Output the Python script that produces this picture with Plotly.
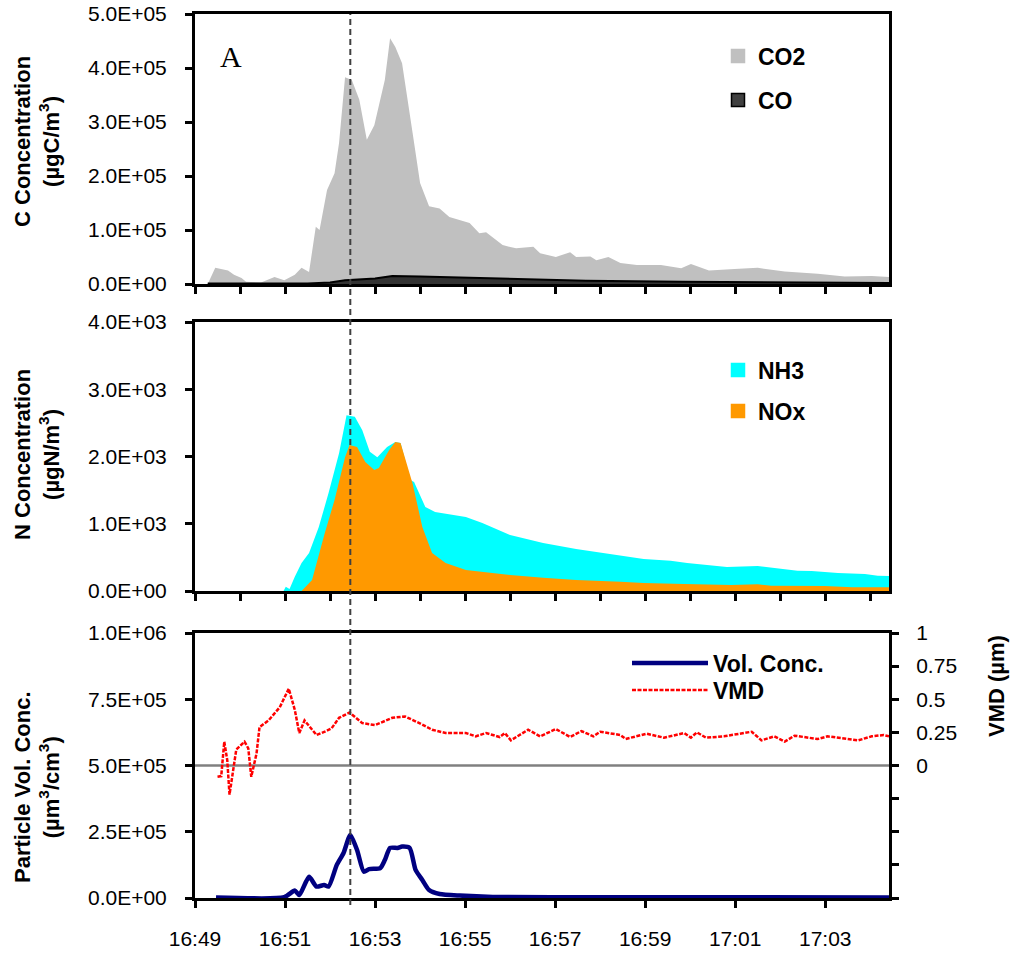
import plotly.graph_objects as go
import pandas as pd

W, H = 1017, 957
FONT = "Liberation Sans"

# ---------------- data (time = seconds after 16:49:00) ----------------
T0 = pd.Timestamp("2000-01-01 16:49:00")
T_END_S = 925
EVENT_S = 207          # dashed marker, ~16:52:27

co2_s = [17, 27, 44, 52, 62, 68, 88, 106, 119, 133, 142, 152, 161, 166, 176, 186, 192, 196, 200, 209,
         219, 229, 239, 253, 260, 267, 276, 290, 300, 312, 326, 339, 353, 366, 379, 388, 410, 428, 451, 460,
         481, 500, 508, 527, 535, 551, 567, 589, 621, 648, 661, 685, 719, 750, 786, 830, 866, 902, 925]
co2_k = [0, 30, 25, 17, 11, 4, 3, 13, 7, 17, 30, 22, 106, 100, 174, 205, 261, 322, 383, 378,
         341, 267, 294, 378, 455, 439, 409, 280, 187, 144, 140, 124, 119, 113, 94, 96, 72, 66, 69, 57,
         50, 59, 50, 51, 44, 50, 39, 35, 35, 29, 37, 25, 28, 30, 23, 19, 14, 15, 13]

co_s = [17, 150, 180, 200, 240, 263, 300, 374, 441, 521, 650, 800, 925]
co_k = [1, 1, 3, 7, 10, 15, 14, 11, 9, 6, 4, 3, 2]

nh3_s = [17, 118, 121, 126, 133, 142, 152, 165, 178, 192, 202, 213, 223, 233, 243, 256, 267, 274, 287, 292,
         307, 320, 361, 383, 420, 464, 508, 535, 571, 598, 634, 656, 709, 750, 803, 822, 857, 893, 910, 925]
nh3 = [0, 0, 64, 30, 213, 416, 565, 951, 1456, 2050, 2615, 2590, 2392, 2070, 1990, 2140, 2215, 2200, 1650, 1620,
       1250, 1175, 1100, 1010, 832, 713, 624, 584, 520, 475, 450, 416, 357, 371, 302, 297, 267, 253, 228, 223]

nox_s = [17, 142, 156, 173, 186, 200, 206, 216, 227, 239, 245, 259, 267, 274, 290, 303, 316, 334, 361, 420,
         464, 508, 567, 598, 652, 715, 750, 768, 839, 876, 925]
nox = [0, 0, 163, 862, 1352, 1990, 2170, 2140, 1920, 1800, 1830, 2100, 2215, 2200, 1600, 951, 565, 416, 312, 238,
       198, 163, 138, 119, 104, 89, 99, 79, 74, 55, 55]

vol_s = [28, 119, 133, 139, 152, 162, 172, 178, 189, 198, 207, 216, 225, 232, 247, 253, 260, 270, 276, 286,
         294, 303, 312, 326, 353, 397, 544, 925]
vol = [2000, 3000, 28000, 11000, 80000, 43000, 49000, 43000, 125000, 170000, 238000, 181000, 99000, 109000,
       113000, 143000, 189000, 189000, 194000, 189000, 106000, 68000, 30000, 15000, 9000, 4000, 3000, 2000]

vmd_s = [30, 35, 39, 43, 46, 51, 55, 66, 71, 75, 82, 86, 98, 113, 125, 133, 139, 146, 153, 162,
         173, 182, 192, 206, 223, 240, 263, 280, 299, 316, 334, 361, 374, 388, 406, 413, 421, 444, 460, 481,
         500, 515, 531, 540, 567, 574, 602, 625, 652, 661, 669, 681, 705, 742, 755, 772, 786, 799, 830, 843,
         884, 902, 918, 925]
vmd = [-0.085, -0.08, 0.18, 0.04, -0.22, -0.03, 0.12, 0.18, 0.13, -0.085, 0.09, 0.29, 0.34, 0.44, 0.58, 0.42,
       0.245, 0.34, 0.29, 0.23, 0.255, 0.28, 0.36, 0.40, 0.32, 0.305, 0.36, 0.37, 0.32, 0.27, 0.245, 0.245,
       0.22, 0.245, 0.215, 0.245, 0.19, 0.27, 0.22, 0.275, 0.215, 0.26, 0.22, 0.255, 0.23, 0.2, 0.24, 0.21,
       0.245, 0.21, 0.25, 0.21, 0.22, 0.255, 0.19, 0.22, 0.18, 0.225, 0.2, 0.22, 0.19, 0.22, 0.23, 0.22]

c_ticks = [0, 1e5, 2e5, 3e5, 4e5, 5e5]
n_ticks = [0, 1e3, 2e3, 3e3, 4e3]
p_ticks = [0, 2.5e5, 5e5, 7.5e5, 1e6]
vmd_ticks = [-1, -0.75, -0.5, -0.25, 0, 0.25, 0.5, 0.75, 1]
vmd_labels = ["", "", "", "", "0", "0.25", "0.5", "0.75", "1"]


def tx(secs):
    return [T0 + pd.Timedelta(seconds=s) for s in secs]


def px_x(p):
    return p / W


def px_y(p):
    return 1 - p / H


X_DOM = [px_x(195), px_x(889)]
Y_DOM1 = [px_y(284), px_y(14)]
Y_DOM2 = [px_y(591), px_y(322)]
Y_DOM3 = [px_y(898), px_y(633)]

fig = go.Figure()

# ---------- top panel ----------
fig.add_trace(go.Scatter(x=tx(co2_s), y=[v * 1000 for v in co2_k], mode="lines", fill="tozeroy",
                         fillcolor="#C0C0C0", line=dict(width=0, color="#C0C0C0"),
                         xaxis="x", yaxis="y", showlegend=False))
fig.add_trace(go.Scatter(x=tx(co_s), y=[v * 1000 for v in co_k], mode="lines", fill="tozeroy",
                         fillcolor="#333333", line=dict(width=2, color="#000000"),
                         xaxis="x", yaxis="y", showlegend=False))

# ---------- middle panel ----------
fig.add_trace(go.Scatter(x=tx(nh3_s), y=nh3, mode="lines", fill="tozeroy",
                         fillcolor="#00FFFF", line=dict(width=0, color="#00FFFF"),
                         xaxis="x2", yaxis="y2", showlegend=False))
fig.add_trace(go.Scatter(x=tx(nox_s), y=nox, mode="lines", fill="tozeroy",
                         fillcolor="#FF9900", line=dict(width=0, color="#FF9900"),
                         xaxis="x2", yaxis="y2", showlegend=False))

# ---------- bottom panel ----------
fig.add_trace(go.Scatter(x=tx(vol_s), y=vol, mode="lines", name="<b>Vol. Conc.</b>",
                         line=dict(width=4.5, color="#000080", shape="spline", smoothing=0.6),
                         xaxis="x3", yaxis="y3", legend="legend5"))
fig.add_trace(go.Scatter(x=tx(vmd_s), y=vmd, mode="lines", name="<b>VMD</b>",
                         line=dict(width=2.5, color="#FF0000", dash="4px,1.5px"),
                         xaxis="x3", yaxis="y4", legend="legend6"))

# ---------- legend swatches (no data) ----------
sw = [("<b>CO2</b>", "#C0C0C0", "#C0C0C0", "legend"),
      ("<b>CO</b>", "#404040", "#000000", "legend2"),
      ("<b>NH3</b>", "#00FFFF", "#00FFFF", "legend3"),
      ("<b>NOx</b>", "#FF9900", "#FF9900", "legend4")]
for name, fc, lc, lg in sw:
    fig.add_trace(go.Scatter(x=[None], y=[None], mode="markers", name=name,
                             marker=dict(symbol="square", size=13, color=fc, line=dict(width=1.5, color=lc)),
                             xaxis="x", yaxis="y", legend=lg))


def leg(xpx, ypx, itemwidth=30):
    return dict(x=px_x(xpx), y=px_y(ypx), xanchor="left", yanchor="middle",
                bgcolor="rgba(0,0,0,0)", borderwidth=0, itemwidth=itemwidth,
                font=dict(family=FONT, size=23, color="black"))


axis_common = dict(showgrid=False, zeroline=False, showline=True, linecolor="black", linewidth=3,
                   ticks="outside", ticklen=7, tickwidth=2.5, tickcolor="black", mirror=True,
                   automargin=False, ticklabeloverflow="allow",
                   tickfont=dict(family=FONT, size=21, color="black"))
x_range = [T0, T0 + pd.Timedelta(seconds=T_END_S)]

fig.update_layout(
    width=W, height=H, margin=dict(l=0, r=0, t=0, b=0, autoexpand=False),
    paper_bgcolor="white", plot_bgcolor="white",
    font=dict(family=FONT, size=21, color="black"),
    xaxis=dict(axis_common, domain=X_DOM, anchor="y", type="date", range=x_range,
               tick0=T0, dtick=60000, showticklabels=False),
    yaxis=dict(axis_common, domain=Y_DOM1, anchor="x", range=[0, 5e5],
               tickvals=c_ticks, ticktext=[f"{v:.1E}" for v in c_ticks], ticklabelstandoff=14),
    xaxis2=dict(axis_common, domain=X_DOM, anchor="y2", type="date", range=x_range,
                tick0=T0, dtick=60000, showticklabels=False),
    yaxis2=dict(axis_common, domain=Y_DOM2, anchor="x2", range=[0, 4000],
                tickvals=n_ticks, ticktext=[f"{v:.1E}" for v in n_ticks], ticklabelstandoff=14),
    xaxis3=dict(axis_common, domain=X_DOM, anchor="y3", type="date", range=x_range,
                tick0=T0, dtick=120000, tickformat="%H:%M", ticklabelstandoff=13),
    yaxis3=dict(axis_common, domain=Y_DOM3, anchor="x3", range=[0, 1e6],
                tickvals=p_ticks, ticktext=[f"{v:.1E}" for v in p_ticks], ticklabelstandoff=14),
    yaxis4=dict(axis_common, domain=Y_DOM3, anchor="x3", overlaying="y3", side="right",
                range=[-1, 1], tickvals=vmd_ticks, ticktext=vmd_labels, mirror=False,
                ticklabelstandoff=13),
    legend=leg(718, 56), legend2=leg(718, 100), legend3=leg(718, 370), legend4=leg(718, 411),
    legend5=leg(627, 663, itemwidth=76), legend6=leg(627, 690, itemwidth=76),
)

# reference lines
fig.add_shape(type="line", xref="x3 domain", x0=0, x1=1, yref="y4", y0=0, y1=0,
              line=dict(color="#808080", width=2.5), layer="below")
ev = T0 + pd.Timedelta(seconds=EVENT_S)
fig.add_shape(type="line", xref="x", x0=ev, x1=ev, yref="paper", y0=px_y(905), y1=px_y(14),
              line=dict(color="#404040", width=2, dash="6px,4px"), layer="above")

# axis titles & panel label
title_font = dict(family=FONT, size=22, color="black")
fig.add_annotation(text="<b>C Concentration</b><br><b>(µgC/m<sup>3</sup>)</b>", textangle=-90,
                   xref="paper", yref="paper", x=px_x(37), y=px_y(142), showarrow=False,
                   xanchor="center", yanchor="middle", font=title_font)
fig.add_annotation(text="<b>N Concentration</b><br><b>(µgN/m<sup>3</sup>)</b>", textangle=-90,
                   xref="paper", yref="paper", x=px_x(37), y=px_y(455), showarrow=False,
                   xanchor="center", yanchor="middle", font=title_font)
fig.add_annotation(text="<b>Particle Vol. Conc.</b><br><b>(µm<sup>3</sup>/cm<sup>3</sup>)</b>", textangle=-90,
                   xref="paper", yref="paper", x=px_x(37), y=px_y(787), showarrow=False,
                   xanchor="center", yanchor="middle", font=title_font)
fig.add_annotation(text="<b>VMD (µm)</b>", textangle=-90,
                   xref="paper", yref="paper", x=px_x(996), y=px_y(686), showarrow=False,
                   xanchor="center", yanchor="middle", font=title_font)
fig.add_annotation(text="A", xref="paper", yref="paper", x=px_x(231), y=px_y(56), showarrow=False,
                   xanchor="center", yanchor="middle",
                   font=dict(family="Liberation Serif", size=30, color="black"))

# remove the browser's default 8px body margin so the figure fills the window exactly
fig.write_html("out.html", config={"displayModeBar": False},
               post_script="document.body.style.margin='0px';")
